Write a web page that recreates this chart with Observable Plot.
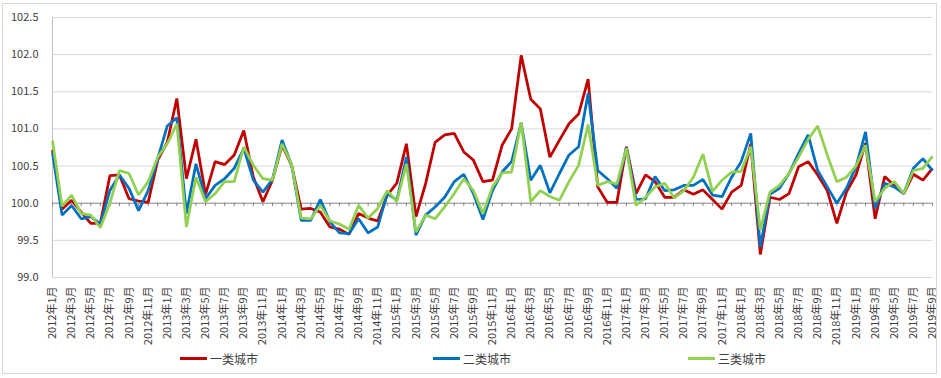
<!DOCTYPE html>
<html><head><meta charset="utf-8">
<script src="https://cdn.jsdelivr.net/npm/d3@7"></script>
<script src="https://cdn.jsdelivr.net/npm/@observablehq/plot@0.6"></script>
<style>
body{margin:0;background:#fff;font-family:"Noto Sans CJK SC","Noto Sans",sans-serif}
#wrap{position:relative;width:941px;height:378px;overflow:hidden;background:#fff}
#frame{position:absolute;left:2px;top:3px;width:935px;height:371px;border:1px solid #d9d9d9;box-sizing:border-box;pointer-events:none}
#chart{position:absolute;left:0;top:0}
#legend{position:absolute;top:348px;left:0;width:941px;height:20px}
.item{position:absolute;top:0;height:20px;display:flex;align-items:center;font-size:12px;color:#404040;white-space:nowrap}
.sw{width:27px;height:3px;margin-right:3px}
</style></head><body>
<div id="wrap"><div id="chart"></div><div id="legend"></div><div id="frame"></div></div>
<script>
// categories: 2012年1月 .. 2019年9月
const months = [];
for (let y = 2012; y <= 2019; y++) for (let m = 1; m <= 12; m++) { if (y === 2019 && m > 9) break; months.push(`${y}年${m}月`); }
const tickMonths = months.filter((d, i) => i % 2 === 0);
const yTicks = [99.0, 99.5, 100.0, 100.5, 101.0, 101.5, 102.0, 102.5];
const seriesNames = ["一类城市", "二类城市", "三类城市"];
const seriesColors = ["#C00000", "#0070C0", "#92D050"];

const tier1 = [100.72,99.92,100.04,99.88,99.73,99.73,100.37,100.38,100.06,100.03,100.01,100.58,100.82,101.41,100.33,100.86,100.12,100.56,100.52,100.65,100.98,100.35,100.02,100.31,100.78,100.51,99.92,99.93,99.88,99.68,99.65,99.58,99.86,99.80,99.76,100.11,100.27,100.80,99.82,100.26,100.82,100.92,100.94,100.69,100.58,100.29,100.31,100.78,101.00,101.99,101.40,101.27,100.62,100.85,101.07,101.20,101.67,100.22,100.01,100.01,100.76,100.13,100.38,100.29,100.08,100.08,100.18,100.12,100.18,100.05,99.92,100.15,100.24,100.80,99.31,100.08,100.05,100.13,100.49,100.56,100.38,100.17,99.73,100.15,100.38,100.81,99.79,100.36,100.24,100.13,100.39,100.31,100.47];
const tier2 = [100.68,99.84,99.97,99.79,99.82,99.72,100.17,100.38,100.20,99.90,100.17,100.60,101.04,101.15,99.86,100.53,100.06,100.24,100.33,100.47,100.74,100.31,100.15,100.32,100.85,100.51,99.77,99.77,100.05,99.75,99.60,99.59,99.79,99.60,99.68,100.13,100.04,100.62,99.57,99.84,99.95,100.08,100.29,100.39,100.13,99.78,100.17,100.42,100.56,101.08,100.31,100.51,100.14,100.40,100.65,100.76,101.48,100.44,100.33,100.20,100.75,100.05,100.06,100.36,100.17,100.18,100.24,100.24,100.32,100.11,100.09,100.35,100.56,100.94,99.41,100.12,100.20,100.40,100.67,100.92,100.44,100.22,100.00,100.20,100.49,100.96,99.93,100.27,100.22,100.13,100.47,100.60,100.44];
const tier3 = [100.84,99.96,100.11,99.86,99.84,99.67,100.00,100.44,100.40,100.11,100.29,100.62,100.80,101.07,99.68,100.35,100.02,100.13,100.29,100.29,100.76,100.51,100.33,100.31,100.80,100.52,99.80,99.79,99.97,99.76,99.72,99.65,99.97,99.80,99.93,100.17,100.02,100.53,99.61,99.84,99.79,99.95,100.13,100.33,100.17,99.86,100.22,100.41,100.42,101.09,100.02,100.17,100.09,100.04,100.29,100.51,101.06,100.24,100.29,100.26,100.74,99.97,100.08,100.22,100.27,100.07,100.17,100.35,100.66,100.16,100.31,100.42,100.43,100.76,99.64,100.15,100.24,100.40,100.62,100.86,101.04,100.65,100.29,100.35,100.50,100.78,100.02,100.20,100.29,100.13,100.44,100.47,100.63];

const allSeries = [tier1, tier2, tier3];
const rows = allSeries.flatMap((vals, s) => vals.map((v, i) => ({month: months[i], value: v, series: seriesNames[s]})));

const chart = Plot.plot({
  width: 941,
  height: 345,
  marginTop: 17,
  marginBottom: 68,
  marginLeft: 52,
  marginRight: 9,
  style: {fontFamily: '"Noto Sans CJK SC","Noto Sans",sans-serif', fontSize: "11px", color: "#404040", background: "transparent"},
  x: {type: "point", domain: months, padding: 0, label: null},
  y: {domain: [99, 102.5], label: null},
  color: {domain: seriesNames, range: seriesColors},
  marks: [
    Plot.ruleY(yTicks.filter(d => d !== 100), {stroke: "#d9d9d9", strokeWidth: 1}),
    Plot.ruleX([months[0]], {y1: 99, y2: 102.5, stroke: "#bfbfbf"}),
    Plot.ruleY([100], {stroke: "#868686", strokeWidth: 1}),
    Plot.ruleX(months, {x: d => d, y1: 100, y2: 99.955, stroke: "#868686"}),
    Plot.axisY({ticks: yTicks, tickFormat: d3.format(".1f"), tickSize: 0, tickPadding: 14, label: null}),
    Plot.axisX({ticks: tickMonths, tickRotate: -90, tickSize: 0, tickPadding: 9, label: null}),
    Plot.line(rows, {x: "month", y: "value", z: "series", stroke: "series", strokeWidth: 2.75, strokeLinejoin: "miter", strokeLinecap: "butt"})
  ]
});
document.getElementById("chart").appendChild(chart);

const legendPos = [180, 433, 688];
const legend = document.getElementById("legend");
seriesNames.forEach((name, i) => {
  const it = document.createElement("div");
  it.className = "item";
  it.style.left = legendPos[i] + "px";
  it.innerHTML = `<span class="sw" style="background:${seriesColors[i]}"></span><span>${name}</span>`;
  legend.appendChild(it);
});
</script>
</body></html>
